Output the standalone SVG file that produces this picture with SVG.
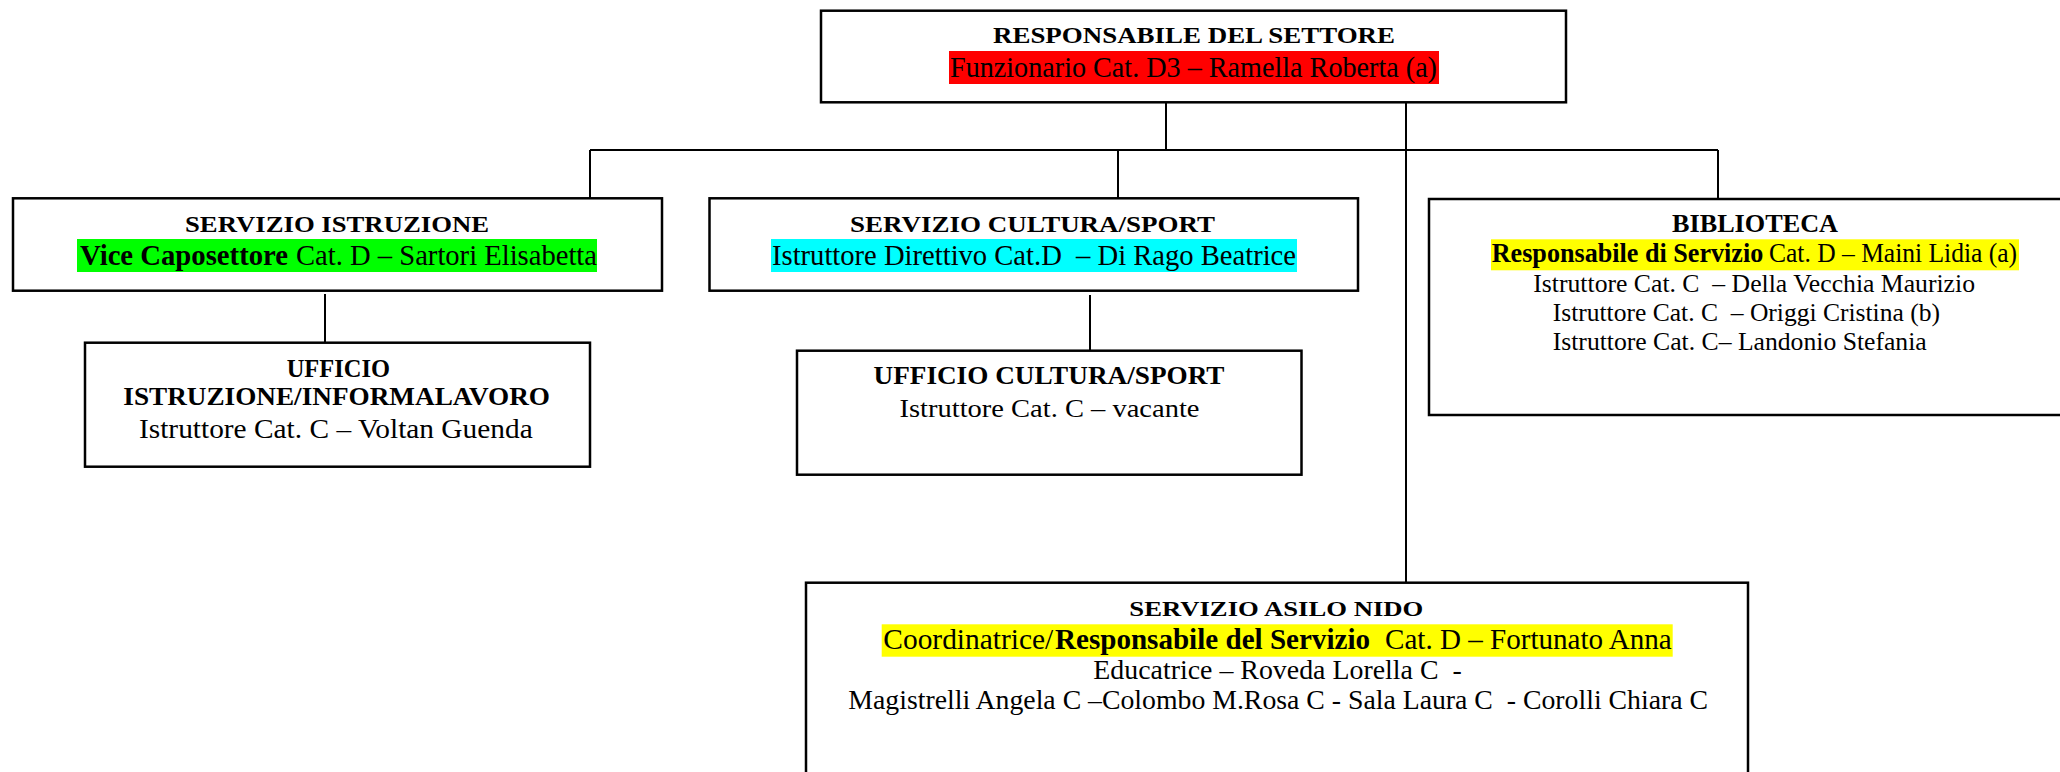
<svg xmlns="http://www.w3.org/2000/svg" width="2060" height="772" viewBox="0 0 2060 772">
<style>
.box{fill:#fff;stroke:#000;stroke-width:2.5}
.ln{stroke:#000;stroke-width:2;fill:none}
text{font-family:"Liberation Serif","Times New Roman",serif;fill:#000}
.b{font-weight:bold}
</style>
<rect width="2060" height="772" fill="#fff"/>
<g id="connectors" class="ln">
<line x1="1166" y1="102.5" x2="1166" y2="150"/>
<line x1="590" y1="150" x2="1718" y2="150"/>
<line x1="590" y1="150" x2="590" y2="198.3"/>
<line x1="1118" y1="150" x2="1118" y2="198.3"/>
<line x1="1718" y1="150" x2="1718" y2="199"/>
<line x1="1406" y1="102.5" x2="1406" y2="582.7"/>
<line x1="325" y1="294" x2="325" y2="342.7"/>
<line x1="1090" y1="295" x2="1090" y2="350.7"/>
</g>
<g id="responsabile">
<rect class="box" x="821" y="10.7" width="745" height="91.6"/>
<text class="b" x="993" y="43.3" font-size="24" textLength="402" lengthAdjust="spacingAndGlyphs">RESPONSABILE DEL SETTORE</text>
<rect x="949" y="51" width="490" height="33" fill="#ff0000"/>
<text x="950" y="76.7" font-size="30" textLength="487" lengthAdjust="spacingAndGlyphs">Funzionario Cat. D3 – Ramella Roberta (a)</text>
</g>
<g id="servizio-istruzione">
<rect class="box" x="13" y="198.3" width="649" height="92.4"/>
<text class="b" x="185" y="231.7" font-size="24" textLength="304" lengthAdjust="spacingAndGlyphs">SERVIZIO ISTRUZIONE</text>
<rect x="77" y="239" width="520" height="33" fill="#00ff00"/>
<text class="b" x="80" y="265" font-size="30" textLength="208" lengthAdjust="spacingAndGlyphs">Vice Caposettore</text>
<text x="296" y="265" font-size="30" textLength="301" lengthAdjust="spacingAndGlyphs">Cat. D – Sartori Elisabetta</text>
</g>
<g id="servizio-cultura">
<rect class="box" x="709.5" y="198.3" width="648.5" height="92.4"/>
<text class="b" x="850" y="231.7" font-size="24" textLength="365" lengthAdjust="spacingAndGlyphs">SERVIZIO CULTURA/SPORT</text>
<rect x="771" y="239" width="526" height="33" fill="#00ffff"/>
<text x="772" y="265" font-size="30" textLength="524" lengthAdjust="spacingAndGlyphs" xml:space="preserve">Istruttore Direttivo Cat.D  – Di Rago Beatrice</text>
</g>
<g id="biblioteca">
<rect class="box" x="1429" y="199" width="640" height="216"/>
<text class="b" x="1672" y="231.7" font-size="25" textLength="166" lengthAdjust="spacingAndGlyphs">BIBLIOTECA</text>
<rect x="1491" y="239.3" width="528" height="31" fill="#ffff00"/>
<text class="b" x="1491.7" y="261.7" font-size="27" textLength="271.6" lengthAdjust="spacingAndGlyphs">Responsabile di Servizio</text>
<text x="1769" y="261.7" font-size="27" textLength="248" lengthAdjust="spacingAndGlyphs">Cat. D – Maini Lidia (a)</text>
<text x="1533.3" y="291.7" font-size="25" textLength="441.7" lengthAdjust="spacingAndGlyphs" xml:space="preserve">Istruttore Cat. C  – Della Vecchia Maurizio</text>
<text x="1552.7" y="320.7" font-size="25" textLength="387.3" lengthAdjust="spacingAndGlyphs" xml:space="preserve">Istruttore Cat. C  – Origgi Cristina (b)</text>
<text x="1552.7" y="350" font-size="25" textLength="374" lengthAdjust="spacingAndGlyphs">Istruttore Cat. C– Landonio Stefania</text>
</g>
<g id="ufficio-istruzione">
<rect class="box" x="85" y="342.7" width="505" height="124"/>
<text class="b" x="286.7" y="376.7" font-size="25" textLength="103.3" lengthAdjust="spacingAndGlyphs">UFFICIO</text>
<text class="b" x="123.3" y="405" font-size="25" textLength="426.7" lengthAdjust="spacingAndGlyphs">ISTRUZIONE/INFORMALAVORO</text>
<text x="139" y="437.5" font-size="27" textLength="393.7" lengthAdjust="spacingAndGlyphs">Istruttore Cat. C – Voltan Guenda</text>
</g>
<g id="ufficio-cultura">
<rect class="box" x="797" y="350.7" width="504.5" height="124"/>
<text class="b" x="873.5" y="384" font-size="26" textLength="351" lengthAdjust="spacingAndGlyphs">UFFICIO CULTURA/SPORT</text>
<text x="899.5" y="417.3" font-size="26" textLength="300" lengthAdjust="spacingAndGlyphs">Istruttore Cat. C – vacante</text>
</g>
<g id="asilo-nido">
<rect class="box" x="806" y="582.7" width="942" height="200"/>
<text class="b" x="1129.3" y="615.7" font-size="21" textLength="294" lengthAdjust="spacingAndGlyphs">SERVIZIO ASILO NIDO</text>
<rect x="881.7" y="624.3" width="791" height="32.4" fill="#ffff00"/>
<text x="883.3" y="648.5" font-size="29" textLength="170" lengthAdjust="spacingAndGlyphs">Coordinatrice/</text>
<text class="b" x="1055" y="648.5" font-size="29" textLength="315" lengthAdjust="spacingAndGlyphs">Responsabile del Servizio</text>
<text x="1385" y="648.5" font-size="29" textLength="286.7" lengthAdjust="spacingAndGlyphs">Cat. D – Fortunato Anna</text>
<text x="1093.3" y="679" font-size="28" textLength="368.4" lengthAdjust="spacingAndGlyphs" xml:space="preserve">Educatrice – Roveda Lorella C  -</text>
<text x="848.3" y="709" font-size="28" textLength="859.7" lengthAdjust="spacingAndGlyphs" xml:space="preserve">Magistrelli Angela C –Colombo M.Rosa C - Sala Laura C  - Corolli Chiara C</text>
</g>
</svg>
